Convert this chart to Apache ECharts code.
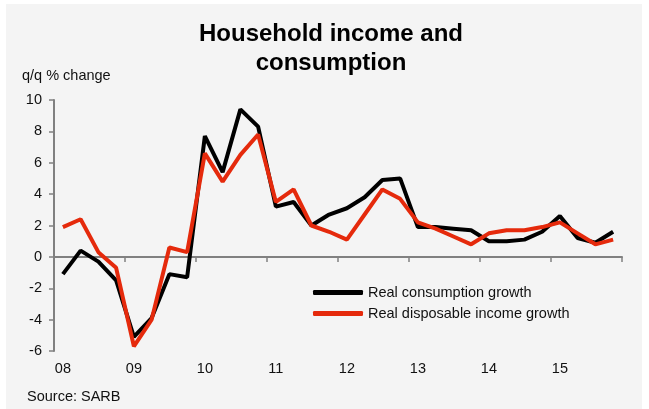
<!DOCTYPE html>
<html>
<head>
<meta charset="utf-8">
<script src="https://cdn.jsdelivr.net/npm/echarts@6/dist/echarts.min.js"></script>
<style>
  html, body { margin: 0; padding: 0; background: #ffffff; }
  #chart { width: 649px; height: 409px; }
</style>
</head>
<body>
<div id="chart"></div>
<script>
// Quarterly observations, 2008Q1 .. 2015Q4
const quarters = [
  '08Q1','08Q2','08Q3','08Q4','09Q1','09Q2','09Q3','09Q4',
  '10Q1','10Q2','10Q3','10Q4','11Q1','11Q2','11Q3','11Q4',
  '12Q1','12Q2','12Q3','12Q4','13Q1','13Q2','13Q3','13Q4',
  '14Q1','14Q2','14Q3','14Q4','15Q1','15Q2','15Q3','15Q4'
];
// Year labels shown on the first quarter of each year
const yearLabels = ['08','09','10','11','12','13','14','15'];

const consumptionGrowth = [
  -1.1, 0.4, -0.3, -1.5, -5.1, -3.9, -1.1, -1.3,
  7.7, 5.4, 9.4, 8.3, 3.2, 3.5, 2.0, 2.7,
  3.1, 3.8, 4.9, 5.0, 1.9, 1.9, 1.8, 1.7,
  1.0, 1.0, 1.1, 1.6, 2.6, 1.2, 0.9, 1.6
];
const incomeGrowth = [
  1.9, 2.4, 0.3, -0.7, -5.7, -4.0, 0.6, 0.3,
  6.6, 4.8, 6.5, 7.8, 3.5, 4.3, 2.0, 1.6,
  1.1, 2.7, 4.3, 3.7, 2.2, 1.8, 1.3, 0.8,
  1.5, 1.7, 1.7, 1.9, 2.2, 1.5, 0.8, 1.1
];

const seriesNames = ['Real consumption growth', 'Real disposable income growth'];
const seriesColors = ['#000000', '#e52a0c'];

const FONT = 'Liberation Sans, Arial, sans-serif';
const chart = echarts.init(document.getElementById('chart'));

function yearLabel(value, index) {
  return yearLabels[Math.floor(index / 4)];
}

chart.setOption({
  backgroundColor: '#ffffff',
  animation: false,
  graphic: [
    {
      type: 'rect',
      z: -10,
      silent: true,
      shape: { x: 6, y: 4, width: 636, height: 405 },
      style: { fill: '#f4f4f4' }
    },
    {
      type: 'text',
      left: 22,
      top: 68,
      style: { text: 'q/q % change', font: '14.5px ' + FONT, fill: '#111' }
    },
    {
      type: 'text',
      left: 27,
      top: 389,
      style: { text: 'Source: SARB', font: '14.5px ' + FONT, fill: '#111' }
    }
  ],
  title: {
    text: 'Household income and\nconsumption',
    left: 326,
    textAlign: 'center',
    top: 15,
    textStyle: {
      fontFamily: FONT,
      fontWeight: 'bold',
      fontSize: 24,
      lineHeight: 29,
      color: '#000'
    }
  },
  legend: {
    orient: 'vertical',
    left: 308,
    top: 280,
    itemWidth: 50,
    itemHeight: 5,
    itemGap: 6,
    icon: 'roundRect',
    data: seriesNames,
    textStyle: { fontFamily: FONT, fontSize: 14.5, color: '#111', lineHeight: 14 }
  },
  grid: { left: 54, right: 27, top: 100, bottom: 58, containLabel: false },
  xAxis: [
    {
      type: 'category',
      data: quarters,
      boundaryGap: true,
      position: 'bottom',
      axisLine: { show: false, onZero: false },
      axisTick: { show: false },
      axisLabel: {
        interval: 3,
        margin: 10,
        formatter: yearLabel,
        fontFamily: FONT,
        fontSize: 14.5,
        color: '#111'
      },
      splitLine: { show: false }
    },
    {
      type: 'category',
      data: quarters,
      boundaryGap: true,
      position: 'bottom',
      axisLine: { show: true, onZero: true, lineStyle: { color: '#808080', width: 2 } },
      axisTick: { show: true, interval: 3, length: 5, lineStyle: { color: '#808080', width: 1.5 } },
      axisLabel: { show: false },
      splitLine: { show: false }
    }
  ],
  yAxis: {
    type: 'value',
    min: -6,
    max: 10,
    interval: 2,
    axisLine: { show: true, lineStyle: { color: '#808080', width: 2 } },
    axisTick: { show: true, length: 5, lineStyle: { color: '#808080', width: 1.5 } },
    axisLabel: { margin: 12, fontFamily: FONT, fontSize: 14.5, color: '#111' },
    splitLine: { show: false }
  },
  series: [
    {
      name: seriesNames[0],
      type: 'line',
      xAxisIndex: 0,
      data: consumptionGrowth,
      color: seriesColors[0],
      showSymbol: false,
      symbol: 'none',
      lineStyle: { width: 4, color: seriesColors[0] }
    },
    {
      name: seriesNames[1],
      type: 'line',
      xAxisIndex: 0,
      data: incomeGrowth,
      color: seriesColors[1],
      showSymbol: false,
      symbol: 'none',
      lineStyle: { width: 4, color: seriesColors[1] }
    }
  ]
});
</script>
</body>
</html>
